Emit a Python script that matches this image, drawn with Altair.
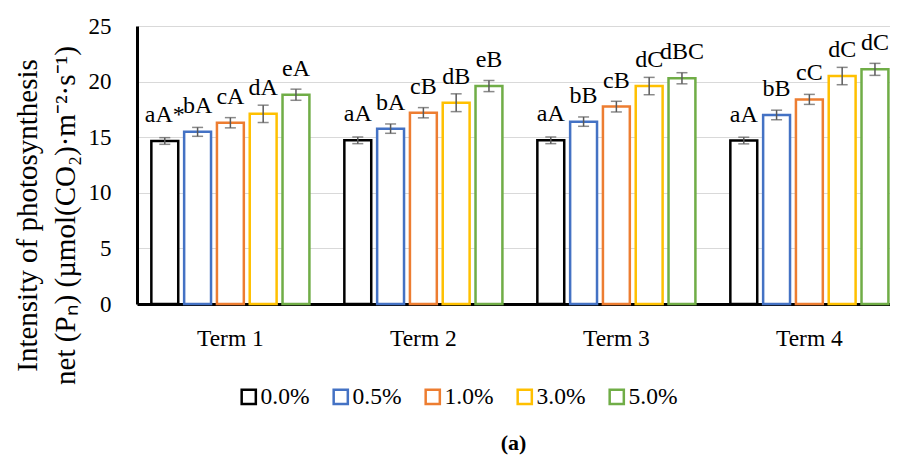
import altair as alt
import pandas as pd

terms = ["Term 1", "Term 2", "Term 3", "Term 4"]
concs = ["0.0%", "0.5%", "1.0%", "3.0%", "5.0%"]
colors = ["#000000", "#4472C4", "#ED7D31", "#FFC000", "#70AD47"]

val_00 = [14.66, 14.72, 14.72, 14.70]
val_05 = [15.48, 15.77, 16.40, 17.00]
val_10 = [16.30, 17.20, 17.75, 18.40]
val_30 = [17.10, 18.10, 19.60, 20.50]
val_50 = [18.82, 19.60, 20.30, 21.10]

err_00 = [0.30, 0.30, 0.30, 0.30]
err_05 = [0.40, 0.42, 0.42, 0.43]
err_10 = [0.46, 0.46, 0.48, 0.45]
err_30 = [0.78, 0.80, 0.78, 0.78]
err_50 = [0.50, 0.50, 0.50, 0.54]

lab_00 = ["aA*", "aA", "aA", "aA"]
lab_05 = ["bA", "bA", "bB", "bB"]
lab_10 = ["cA", "cB", "cB", "cC"]
lab_30 = ["dA", "dB", "dC", "dC"]
lab_50 = ["eA", "eB", "dBC", "dC"]

values = [val_00, val_05, val_10, val_30, val_50]
errors = [err_00, err_05, err_10, err_30, err_50]
labels = [lab_00, lab_05, lab_10, lab_30, lab_50]

rows = []
for ci, c in enumerate(concs):
    for ti, t in enumerate(terms):
        v = values[ci][ti]
        e = errors[ci][ti]
        rows.append(dict(term=t, conc=c, value=v, lo=v - e, hi=v + e,
                         label=labels[ci][ti]))
df = pd.DataFrame(rows)

FONT = "Liberation Serif"
y_title = ["Intensity of photosynthesis", "net (P\u2099) (\u00b5mol(CO\u2082)\u00b7m\u207b\u00b2\u00b7s\u207b\u00b9)"]

x_enc = alt.X("term:N", sort=terms,
              scale=alt.Scale(paddingInner=0.181, paddingOuter=0.0413, align=0.9),
              axis=alt.Axis(title=None, labelAngle=0, ticks=False, labelPadding=22,
                            domainColor="black", domainWidth=3, grid=False,
                            labelFont=FONT, labelColor="black",
                            labelFontSize=23.5))
xo_enc = alt.XOffset("conc:N", sort=concs,
                     scale=alt.Scale(domain=concs, paddingInner=0.18, paddingOuter=0))
y_axis = alt.Axis(title=y_title, values=[0, 5, 10, 15, 20, 25], ticks=False,
                  labelPadding=26, domainColor="black", domainWidth=3,
                  gridColor="#d9d9d9", gridWidth=1, labelFontSize=23,
                  labelFont=FONT, labelColor="black", titleFont=FONT, titleColor="black",
                  titleFontSize=29, titleFontWeight="normal", titleLineHeight=38,
                  titleX=-101, titleY=189, titleAlign="center", titleBaseline="alphabetic",
                  titleAngle=270)
y_scale = alt.Scale(domain=[0, 25], nice=False)

bars = alt.Chart(df).mark_bar(fill="white", strokeWidth=2.5).encode(
    x=x_enc, xOffset=xo_enc,
    y=alt.Y("value:Q", scale=y_scale, axis=y_axis),
    stroke=alt.Stroke("conc:N", sort=concs,
                      scale=alt.Scale(domain=concs, range=colors),
                      legend=alt.Legend(title=None, orient="none", legendX=100, legendY=359,
                                        direction="horizontal", symbolType="square",
                                        symbolSize=200, symbolStrokeWidth=2.5,
                                        symbolFillColor="white", labelFont=FONT,
                                        labelFontSize=23.5, labelColor="black",
                                        labelOffset=0, columnPadding=18, padding=0)),
)

rules = alt.Chart(df).mark_rule(color="#595959", strokeWidth=1.5).encode(
    x=x_enc, xOffset=xo_enc,
    y=alt.Y("lo:Q", scale=y_scale, axis=y_axis), y2="hi:Q",
)
caps_lo = alt.Chart(df).mark_tick(color="#595959", thickness=1.5, size=11).encode(
    x=x_enc, xOffset=xo_enc, y=alt.Y("lo:Q", scale=y_scale, axis=y_axis),
)
caps_hi = alt.Chart(df).mark_tick(color="#595959", thickness=1.5, size=11).encode(
    x=x_enc, xOffset=xo_enc, y=alt.Y("hi:Q", scale=y_scale, axis=y_axis),
)
texts = alt.Chart(df).mark_text(font=FONT, fontSize=24, dy=-19, baseline="alphabetic",
                                color="black").encode(
    x=x_enc, xOffset=xo_enc, y=alt.Y("value:Q", scale=y_scale, axis=y_axis),
    text="label:N",
)

chart = alt.layer(bars, rules, caps_lo, caps_hi, texts).properties(
    width=753, height=278,
    background="white",
    autosize=alt.AutoSizeParams(type="none"),
    padding={"left": 129, "top": 18, "right": 0, "bottom": 156},
    title=alt.TitleParams("(a)", orient="bottom", font=FONT, fontSize=22,
                          fontWeight="bold", color="black", offset=41,
                          baseline="alphabetic"),
).configure_view(stroke=None).configure_axis(
    labelFont=FONT, titleFont=FONT, labelColor="black", titleColor="black",
)

chart.save("out.html", embed_options={"renderer": "svg", "actions": False})
